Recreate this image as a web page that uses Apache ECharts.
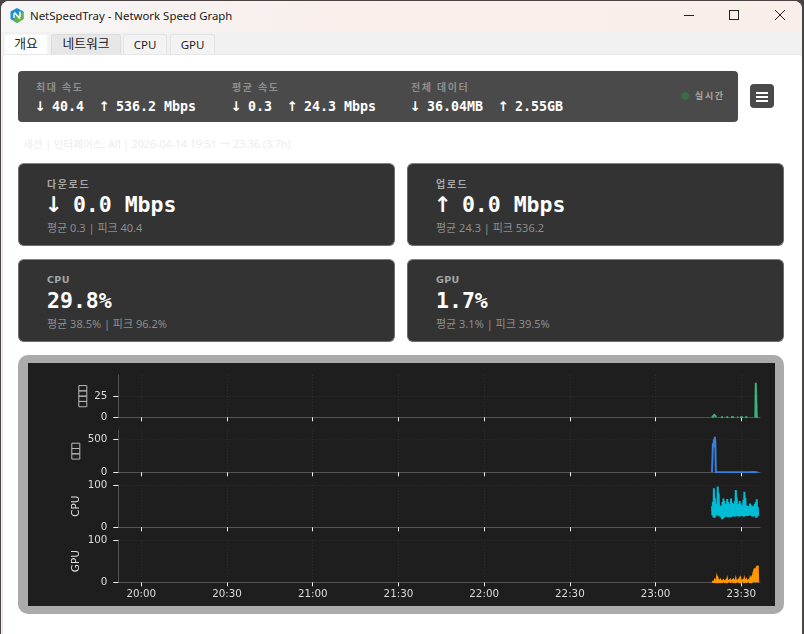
<!DOCTYPE html>
<html lang="ko">
<head>
<meta charset="utf-8">
<title>NetSpeedTray - Network Speed Graph</title>
<script src="https://cdn.jsdelivr.net/npm/echarts@6/dist/echarts.min.js"></script>
<style>
html,body{margin:0;padding:0;width:804px;height:634px;overflow:hidden;background:#4a4444;}
*{box-sizing:border-box;}
body{font-family:"Noto Sans","Noto Sans CJK KR",sans-serif;position:relative;}
.abs{position:absolute;white-space:pre;}
#win{position:absolute;left:1px;top:1px;width:801px;height:640px;border-radius:8px 8px 0 0;background:#f1f1f1;overflow:hidden;}
#titlebar{position:absolute;left:0;top:0;width:801px;height:31px;background:linear-gradient(90deg,#f6f6f6 0%,#f9efeb 45%,#f8eeea 100%);}
#content{position:absolute;left:1px;top:53px;width:800px;height:590px;background:#fff;border-top:1px solid #e8e8e8;border-left:1px solid #e4e4e4;border-radius:4px 4px 0 0;}
.tab{position:absolute;top:34px;height:20px;border:1px solid #e3e3e3;border-bottom:none;border-radius:3px 3px 0 0;font-size:11.5px;line-height:19px;text-align:center;color:#222;background:#f3f3f3;font-family:"Noto Sans","Noto Sans CJK KR",sans-serif;}
.tab.ko{font-size:12.8px;}
.card{position:absolute;width:376.5px;height:83px;background:#333;border:1px solid #6e6e6e;border-top-color:#808080;border-radius:6px;}
.lbl{font-family:"Noto Sans CJK KR",sans-serif;font-size:10px;color:#a8a8a8;font-weight:700;letter-spacing:1.6px;}
.lbl.en{letter-spacing:.4px;font-size:9.5px;font-family:"DejaVu Sans",sans-serif;}
.val{font-family:"DejaVu Sans Mono",monospace;font-weight:700;color:#fff;}
.val i{font-family:"DejaVu Sans",sans-serif;font-style:normal;font-weight:700;display:inline-block;width:.602em;text-align:center;text-indent:-.12em;}
.sub{font-family:"Noto Sans","Noto Sans CJK KR",sans-serif;font-size:11px;color:#8e8e8e;}
#panel{position:absolute;left:18px;top:355px;width:766px;height:259px;border-radius:10px;background:#ababab;}
#inner{position:absolute;left:10px;top:8px;width:747px;height:243px;background:#1e1e1e;}
#chart{position:absolute;left:0;top:0;width:804px;height:634px;}
</style>
</head>
<body>
<div id="win">
  <div id="titlebar"></div>
  <div id="content"></div>
</div>

<svg class="abs" style="left:9px;top:7px" width="16" height="17" viewBox="0 0 16 17">
  <polygon points="8,1 14.5,4.5 14.5,12 8,16 1.5,12 1.5,4.5" fill="#1f8fd6"/>
  <polygon points="14.5,5 14.5,12 8,16 4,13.5 8,8" fill="#62b347"/>
  <path d="M5 6.5V11M5.5 5.5L11 12M11 4.5V10" fill="none" stroke="#fff" stroke-width="1.5"/>
</svg>
<div class="abs" style="left:30px;top:7px;font-size:11.4px;line-height:18px;color:#1a1a1a;">NetSpeedTray - Network Speed Graph</div>
<svg class="abs" style="left:680px;top:6px" width="110" height="20" fill="none" stroke="#222" stroke-width="1">
  <path d="M4 9.5H14"/>
  <rect x="49.5" y="4.5" width="9" height="9"/>
  <path d="M95 4L105 14M105 4L95 14"/>
</svg>

<div class="tab ko" style="left:4px;width:44px;background:#fff;border-color:#f4f4f4;line-height:17px;">개요</div>
<div class="tab ko" style="left:51px;width:70px;background:#e7e7e7;border-color:#dcdcdc;line-height:17px;">네트워크</div>
<div class="tab" style="left:123px;width:44px;">CPU</div>
<div class="tab" style="left:170px;width:45px;">GPU</div>

<div class="abs" style="left:18px;top:71px;width:720px;height:51px;background:#4a4a4a;border-radius:4px;"></div>
<div class="abs lbl" style="left:36px;top:79px;color:#8e8e8e;">최대 속도</div>
<div class="abs val" style="left:36px;top:98px;font-size:13.3px;line-height:17px;"><i>↓</i> 40.4  <i>↑</i> 536.2 Mbps</div>
<div class="abs lbl" style="left:232px;top:79px;color:#8e8e8e;">평균 속도</div>
<div class="abs val" style="left:232px;top:98px;font-size:13.3px;line-height:17px;"><i>↓</i> 0.3  <i>↑</i> 24.3 Mbps</div>
<div class="abs lbl" style="left:411px;top:79px;color:#8e8e8e;">전체 데이터</div>
<div class="abs val" style="left:411px;top:98px;font-size:13.3px;line-height:17px;"><i>↓</i> 36.04MB  <i>↑</i> 2.55GB</div>
<div class="abs" style="left:681px;top:92px;width:8px;height:8px;border-radius:50%;background:#3d6b45;"></div>
<div class="abs lbl" style="left:695px;top:89px;font-size:9px;color:#a6a6a6;">실시간</div>
<div class="abs" style="left:750px;top:84px;width:24px;height:24px;background:#4a4a4a;border-radius:4px;"></div>
<svg class="abs" style="left:750px;top:84px" width="24" height="24" fill="#fff">
  <rect x="6" y="8" width="12" height="2"/><rect x="6" y="12" width="12" height="2"/><rect x="6" y="16" width="12" height="2"/>
</svg>

<div class="abs" style="left:23px;top:136px;font-size:10.6px;line-height:16px;color:#ececec;">세션 | 인터페이스: All | 2026-04-14 19:51 → 23:36 (3.7h)</div>

<div class="card" style="left:18px;top:163px;"></div>
<div class="abs lbl" style="left:47px;top:176px;">다운로드</div>
<div class="abs val" style="left:47px;top:192px;font-size:21.5px;line-height:26px;"><i>↓</i> 0.0 Mbps</div>
<div class="abs sub" style="left:47px;top:219px;">평균 0.3 | 피크 40.4</div>

<div class="card" style="left:407px;top:163px;"></div>
<div class="abs lbl" style="left:436px;top:176px;">업로드</div>
<div class="abs val" style="left:436px;top:192px;font-size:21.5px;line-height:26px;"><i>↑</i> 0.0 Mbps</div>
<div class="abs sub" style="left:436px;top:219px;">평균 24.3 | 피크 536.2</div>

<div class="card" style="left:18px;top:259px;"></div>
<div class="abs lbl en" style="left:47px;top:274px;">CPU</div>
<div class="abs val" style="left:47px;top:288px;font-size:21.5px;line-height:26px;">29.8%</div>
<div class="abs sub" style="left:47px;top:315px;">평균 38.5% | 피크 96.2%</div>

<div class="card" style="left:407px;top:259px;"></div>
<div class="abs lbl en" style="left:436px;top:274px;">GPU</div>
<div class="abs val" style="left:436px;top:288px;font-size:21.5px;line-height:26px;">1.7%</div>
<div class="abs sub" style="left:436px;top:315px;">평균 3.1% | 피크 39.5%</div>

<div id="panel"><div id="inner"></div></div>
<div id="chart"></div>

<script>
// x-axis tick labels
const tickLabels = ['20:00','20:30','21:00','21:30','22:00','22:30','23:00','23:30'];
// Axis range and sampling of the visible session
const axisStart = '19:51:57';
const axisEnd = '23:36:33';
const sampleStart = '23:19:45';
const sampleStepSeconds = 10;

// The reference shows missing-glyph boxes for the two Korean axis titles
const rowNames = ['{t|□}{t|□}{t|□}{t|□}','{t|□}{t|□}{t|□}','CPU','GPU'];
const rowColors = ['#3cb37a','#3b7de0','#00bcd4','#ff9800'];
const rowMax = [49.6,640,100,100];
const rowTicks = [[0,25],[0,500],[0,100],[0,100]];

// (download, Mbps); null where no line is visible
const downloadValues = [0,0.5,1.4,2.3,2.7,2.7,2.5,2,1.2,0.5,null,null,null,null,null,null,null,null,null,0.2,0.3,0.2,0.1,0.2,null,null,null,null,null,null,0.2,0.3,0.2,0.1,0.2,0.3,null,null,null,null,0.1,0.3,0.2,0.3,0.2,0.1,0.2,0.3,null,null,null,null,null,0.2,0.1,0.3,0.2,null,null,0.2,0.3,0.1,0.2,0.3,0.2,0.1,null,null,null,null,0.2,0.3,0.1,0.2,0.3,0.2,null,null,null,null,null,null,null,null,null,null,null,null,null,null,null,0.1,40.4,40.1,0.1,0,0,0];
// Upload, Mbps
const uploadValues = [0,0,440,380,500,420,536.2,460,0,1,2,1,0,1,2,1,1,0,2,1,1,2,0,1,1,2,1,0,1,2,1,1,0,1,2,1,0,1,1,2,1,0,1,2,1,1,0,1,2,1,1,0,1,1,2,1,0,1,2,1,1,0,1,2,1,0,1,1,2,1,0,1,2,1,1,0,1,2,1,1,0,1,1,2,1,2,3,2,1,1,2,1,0,1,1,0,1,0];
// CPU, percent
const cpuValues = [50,28,60,24,92,22,70,25,52,30,55,29,96.2,28,80,26,52,28,50,24,50,19,60,20,68,22,62,27,55,25,52,26,67,24,60,27,55,24,50,26,68,24,58,27,52,26,56,25,62,27,88,26,70,28,55,27,50,25,62,26,56,27,50,27,52,26,65,25,84,27,70,27,52,27,50,27,50,28,50,28,56,28,52,27,50,25,50,26,50,27,55,26,60,22,66,25,48,28];
// GPU, percent
const gpuValues = [2,0,4,1,5,0,5,1,6,0,8,1,6,0,5,1,5,0,5,1,5,0,4,0,5,1,5,0,4,1,5,0,6,1,4,1,5,0,6,1,5,0,5,1,6,0,5,1,4,0,6,1,5,0,4,1,6,0,5,0,6,1,5,0,5,1,6,0,6,1,5,0,6,1,5,0,5,1,6,0,6,1,6,0,5,1,16,0,17,0,33,1,33,0,38,0,39.5,0];

const day = '2026-04-14T';
const ms = t => new Date(day + t).getTime();
const times = cpuValues.map((_, i) => ms(sampleStart) + i * sampleStepSeconds * 1000);
const rowValues = [downloadValues, uploadValues, cpuValues, gpuValues];
const tickTimes = tickLabels.map(t => ms(t + ':00'));
const fmt = v => { const d = new Date(v); return String(d.getHours()).padStart(2,'0') + ':' + String(d.getMinutes()).padStart(2,'0'); };

const gridTops = [375,430,485,540];
const gridHeight = 42.3;
const nameGaps = [31,38,37,37];

const chart = echarts.init(document.getElementById('chart'), null, {width:804, height:634});
chart.setOption({
  animation:false,
  backgroundColor:'transparent',
  grid: gridTops.map(top => ({left:118.3, width:641.7, top:top, height:gridHeight})),
  xAxis: gridTops.map((_, i) => ({
    type:'value', gridIndex:i, min:ms(axisStart), max:ms(axisEnd), scale:true,
    axisLine:{show:true, onZero:false, lineStyle:{color:'#555', width:1}},
    axisTick:{show:true, length:4, customValues:tickTimes, lineStyle:{color:'#f0f0f0', width:1}},
    axisLabel:{show:i === 3, customValues:tickTimes, formatter:fmt, color:'#dcdcdc', fontFamily:'DejaVu Sans', fontSize:10.3, margin:7},
    splitLine:{show:true, lineStyle:{color:'#2e2e2e', type:[1,2], width:1}}
  })),
  yAxis: gridTops.map((_, i) => ({
    type:'value', gridIndex:i, min:0, max:rowMax[i],
    name:rowNames[i], nameLocation:'middle', nameGap:nameGaps[i], nameRotate:90, nameMoveOverlap:false,
    nameTextStyle:{color:'#dcdcdc', fontFamily:'DejaVu Sans', fontSize:10.5,
      rich:{t:{color:'rgba(0,0,0,0)', fontSize:5, width:5.3, height:8, lineHeight:9, align:'center', borderColor:'#b8b8b8', borderWidth:1}}},
    axisLine:{show:true, lineStyle:{color:'#555', width:1}},
    axisTick:{show:true, length:5, customValues:rowTicks[i], lineStyle:{color:'#f0f0f0', width:1}},
    axisLabel:{customValues:rowTicks[i], color:'#dcdcdc', fontFamily:'DejaVu Sans', fontSize:10.3, margin:11, padding:[2,0,0,0]},
    splitLine:{show:true, lineStyle:{color:'#2e2e2e', type:[1,2], width:1}}
  })),
  series: rowValues.map((vals, i) => ({
    type:'line', xAxisIndex:i, yAxisIndex:i, showSymbol:false, symbol:'none',
    lineStyle:{color:rowColors[i], width:2, join:'miter'}, itemStyle:{color:rowColors[i]},
    data:vals.map((v, k) => [times[k], v])
  }))
});
</script>
</body>
</html>
